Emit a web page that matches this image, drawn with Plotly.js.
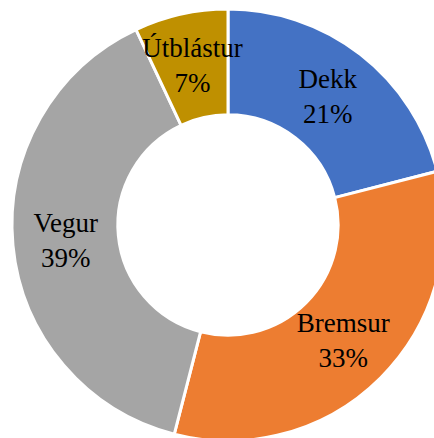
<!DOCTYPE html>
<html>
<head>
<meta charset="utf-8">
<script src="https://cdn.plot.ly/plotly-3.0.1.min.js"></script>
<style>
html,body{margin:0;padding:0;overflow:hidden;background:#fff;width:434px;height:438px;position:relative;}
#chart{position:absolute;left:-40px;top:-40px;width:520px;height:520px;}
</style>
</head>
<body>
<div id="chart"></div>
<script>
const labels = ["Dekk", "Bremsur", "Vegur", "Útblástur"];
const values = [21, 33, 39, 7];
const colors = ["#4472C4", "#ED7D31", "#A5A5A5", "#BF9000"];

const W = 520, H = 520;
const CX = 268, CY = 265;      // ring centre inside the plot div (px)
const R = 216, HOLE = 0.51;     // ring outer radius and hole fraction
const MID = R * (1 + HOLE) / 2; // radius where labels sit
const TR = 240;                 // radius of the text-carrying layer (wide slices)
const THOLE = 2 * MID / TR - 1;

// narrow slice: Plotly centres its label on the inscribed circle of the wedge
const total = values.reduce((a, b) => a + b, 0);
const sNarrow = Math.sin(Math.PI * values[3] / total);
const TR3 = MID / (1 - sNarrow / (1 + sNarrow));

function dom(r) {
  return {x: [(CX - r) / W, (CX + r) / W], y: [(H - (CY + r)) / H, (H - (CY - r)) / H]};
}

const base = {
  type: "pie",
  labels: labels,
  values: values,
  sort: false,
  direction: "clockwise",
  rotation: 0,
  hoverinfo: "none"
};
const clear = values.map(() => "rgba(0,0,0,0)");
const font = {family: "Liberation Serif, Times New Roman, serif", size: 27, color: "#000000"};

const ring = Object.assign({}, base, {
  hole: HOLE,
  marker: {colors: colors, line: {color: "#ffffff", width: 3}},
  textinfo: "none",
  domain: dom(R)
});

const textWide = Object.assign({}, base, {
  hole: THOLE,
  marker: {colors: clear, line: {width: 0}},
  texttemplate: "%{label}<br>%{percent:.0%}",
  textposition: ["inside", "inside", "inside", "none"],
  insidetextorientation: "horizontal",
  textfont: font,
  domain: dom(TR)
});

const textNarrow = Object.assign({}, base, {
  hole: 0,
  marker: {colors: clear, line: {width: 0}},
  texttemplate: "%{label}<br>%{percent:.0%}",
  textposition: ["none", "none", "none", "inside"],
  insidetextorientation: "horizontal",
  textfont: font,
  domain: dom(TR3)
});

const layout = {
  width: W,
  height: H,
  margin: {l: 0, r: 0, t: 0, b: 0},
  showlegend: false,
  paper_bgcolor: "rgba(0,0,0,0)",
  uniformtext: {minsize: 27, mode: "show"}
};

Plotly.newPlot("chart", [ring, textWide, textNarrow], layout, {displayModeBar: false, staticPlot: true});
</script>
</body>
</html>
